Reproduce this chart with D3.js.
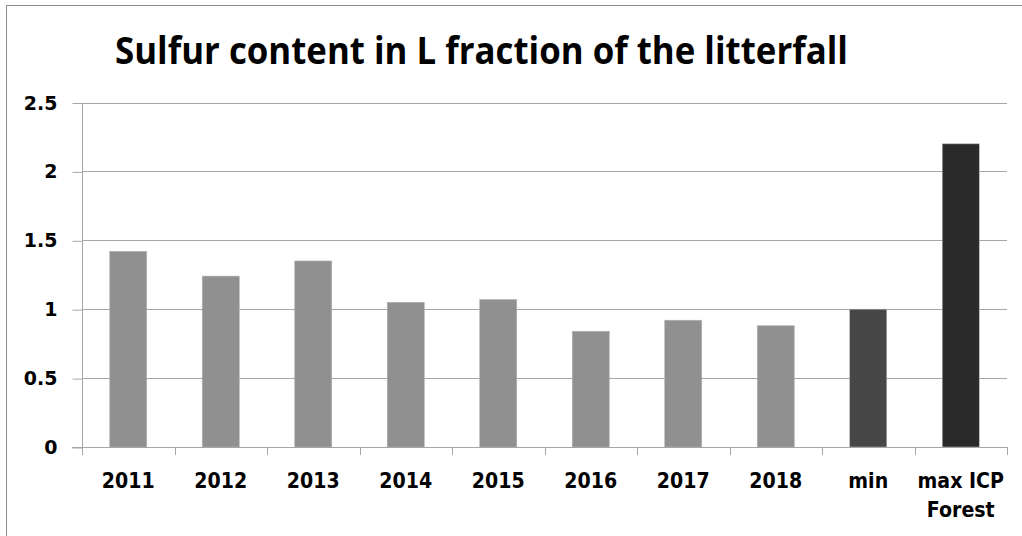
<!DOCTYPE html>
<html><head><meta charset="utf-8">
<script src="https://cdn.jsdelivr.net/npm/d3@7"></script>
<style>body{margin:0;background:#fff}svg{display:block}</style>
</head><body>
<svg id="c" width="1022" height="536"></svg>
<script>
const categories = ["2011","2012","2013","2014","2015","2016","2017","2018","min","max ICP Forest"];
const values = [1.42,1.24,1.35,1.05,1.07,0.84,0.92,0.88,1.0,2.2];
const barColors = ["#909090","#909090","#909090","#909090","#909090","#909090","#909090","#909090","#474747","#2a2a2a"];
const yTicks = [0,0.5,1,1.5,2,2.5];
const title = "Sulfur content in L fraction of the litterfall";

const svg = d3.select("#c");
const pL = 82, pR = 1007, pT = 102.5, pB = 447;
const x = d3.scaleBand().domain(categories).range([pL,pR]).paddingInner(0.6).paddingOuter(0.3);
const y = d3.scaleLinear().domain([0,2.5]).range([pB,pT]);
const grid = "#a6a6a6";

svg.append("rect").attr("x",6.5).attr("y",5.5).attr("width",1030).attr("height",540)
  .attr("fill","none").attr("stroke","#8c8c8c");

// gridlines
svg.append("g").selectAll("line").data(yTicks.slice(1)).join("line")
  .attr("x1",pL).attr("x2",pR).attr("y1",d=>Math.round(y(d))+0.5).attr("y2",d=>Math.round(y(d))+0.5)
  .attr("stroke",grid);

// bars
svg.append("g").selectAll("rect").data(values).join("rect")
  .attr("x",(d,i)=>x(categories[i])).attr("width",x.bandwidth())
  .attr("y",d=>y(d)).attr("height",d=>pB-y(d))
  .attr("fill",(d,i)=>barColors[i]).attr("stroke","#b0b0b0").attr("stroke-width",0.6);

// y axis
const ya = d3.axisLeft(y).tickValues(yTicks).tickSize(10).tickPadding(8).tickFormat(d=>String(d));
const gy = svg.append("g").attr("transform",`translate(${pL+0.5},0.5)`).call(ya);
gy.select(".domain").attr("stroke",grid).attr("d",`M0,${pT}V${pB}`);
gy.selectAll(".tick line").attr("stroke",grid);
gy.selectAll(".tick text").attr("font-family","DejaVu Sans").attr("font-weight","bold")
  .attr("font-size",19).attr("fill","#000").attr("x",-25);

// x axis
const bounds = categories.map(c=>x(c)-x.step()*x.paddingInner()/2).concat([pR]);
svg.append("line").attr("x1",pL-10).attr("x2",pR).attr("y1",pB+0.5).attr("y2",pB+0.5).attr("stroke",grid);
svg.append("g").selectAll("line").data(bounds).join("line")
  .attr("x1",d=>Math.round(d)+0.5).attr("x2",d=>Math.round(d)+0.5).attr("y1",pB).attr("y2",pB+8)
  .attr("stroke",grid);

const lab = svg.append("g").attr("transform","translate(0,488) scale(1,1.15)")
  .selectAll("text").data(categories).join("text")
  .attr("x",d=>x(d)+x.bandwidth()/2).attr("y",0)
  .attr("text-anchor","middle").attr("font-family","DejaVu Sans").attr("font-weight","bold")
  .attr("font-size",19).attr("fill","#000");
lab.each(function(d){
  const t = d3.select(this);
  if (d === "max ICP Forest") {
    t.append("tspan").attr("x",x(d)+x.bandwidth()/2).text("max ICP");
    t.append("tspan").attr("x",x(d)+x.bandwidth()/2).attr("dy",25).text("Forest");
  } else t.text(d);
});

// title
svg.append("text").attr("x",115).attr("y",64).attr("font-family","Open Sans").attr("font-weight","bold")
  .attr("font-size",38).attr("fill","#000").attr("textLength",733).attr("lengthAdjust","spacingAndGlyphs")
  .text(title);
</script>
</body></html>
